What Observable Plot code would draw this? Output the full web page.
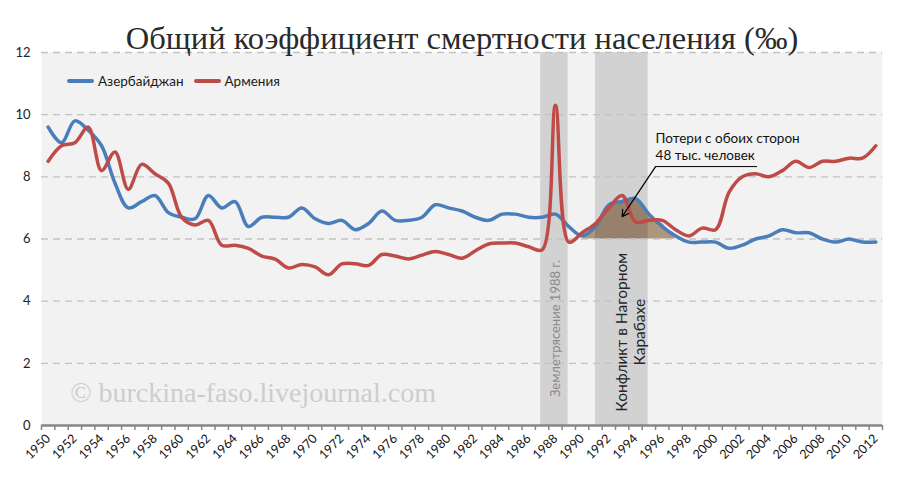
<!DOCTYPE html>
<html>
<head>
<meta charset="utf-8">
<script src="https://cdn.jsdelivr.net/npm/d3@7"></script>
<script src="https://cdn.jsdelivr.net/npm/@observablehq/plot@0.6"></script>
<style>
  html, body { margin: 0; padding: 0; background: #fff; }
  #wrap { position: relative; width: 900px; height: 480px; }
  #legend { position: absolute; left: 67px; top: 73px; display: flex; align-items: center;
            font-family: Lato, "Liberation Sans", sans-serif; font-size: 13.5px; color: #1a1a1a; }
  #legend .sw { display: inline-block; width: 27px; height: 3.5px; margin-right: 4px; border-radius: 2px; }
  #legend .it { display: flex; align-items: center; margin-right: 10px; }
</style>
</head>
<body>
<div id="wrap"></div>
<script>
// ---- data ----
const years = d3.range(1950, 2013);
const azerbaijan = [
  9.6, 9.1, 9.8, 9.5, 9.0, 7.8, 7.0, 7.2, 7.4, 6.85,
  6.7, 6.65, 7.4, 7.0, 7.2, 6.4, 6.7, 6.7, 6.7, 7.0,
  6.65, 6.5, 6.6, 6.3, 6.5, 6.9, 6.6, 6.6, 6.7, 7.1,
  7.0, 6.9, 6.7, 6.6, 6.8, 6.8, 6.7, 6.7, 6.8, 6.4,
  6.1, 6.4, 7.1, 7.2, 7.3, 6.8, 6.4, 6.1, 5.9, 5.9,
  5.9, 5.7, 5.8, 6.0, 6.1, 6.3, 6.2, 6.2, 6.0, 5.9,
  6.0, 5.9, 5.9
];
const armenia = [
  8.5, 9.0, 9.1, 9.6, 8.2, 8.8, 7.6, 8.4, 8.1, 7.8,
  6.7, 6.45, 6.6, 5.8, 5.8, 5.7, 5.45, 5.35, 5.07, 5.18,
  5.1, 4.85, 5.2, 5.2, 5.15, 5.5, 5.45, 5.36, 5.48, 5.6,
  5.5, 5.38, 5.62, 5.84, 5.87, 5.87, 5.75, 5.65, 10.3, 5.9,
  6.2, 6.5, 7.0, 7.4, 6.55, 6.6, 6.6, 6.3, 6.1, 6.35,
  6.3, 7.5, 8.0, 8.1, 8.0, 8.2, 8.5, 8.3, 8.5, 8.5,
  8.6, 8.6, 9.0
];
const seriesNames = ["Азербайджан", "Армения"];
const seriesColors = ["#4a7ebb", "#be4b48"];

// shaded loss area (conflict years)
const lossYears = [1990, 1991, 1992, 1993, 1994, 1995, 1996, 1997];
const lossTop   = [6.0, 6.4, 7.1, 7.25, 7.3, 6.75, 6.5, 6.0];
const lossBase  = 6;

// highlighted periods
const bandStart = [1986.9, 1991.0];
const bandEnd   = [1988.95, 1994.95];
const bandText  = ["Землетрясение 1988 г.", "Конфликт в Нагорном\nКарабахе"];
const bandTextX = [1988.05, 1993.6];
const bandTextY = [3.12, 3.0];

// axis ticks
const yTicks = [0, 2, 4, 6, 8, 10, 12];
const gridValues = [2, 4, 6, 8, 10, 12];
const xLabelYears = d3.range(1950, 2013, 2);
const xTickEdges = d3.range(1949.5, 2013, 1);

// texts
const titleText = "Общий коэффициент смертности населения (‰)";
const watermarkText = ["© burckina-faso.livejournal.com"];
const watermarkX = [1951.65];
const watermarkY = [1.03];
const noteText = ["Потери с обоих сторон\n48 тыс. человек"];
const noteX = [1995.5];
const noteY = [8.98];
const leader = [{x1: 1995.5, y1: 8.33, x2: 2003.1, y2: 8.33}];
const arrowSeg = [{x1: 1995.5, y1: 8.33, x2: 1993.0, y2: 6.72}];

// ---- build tables ----
const rows = [];
years.forEach((yr, i) => {
  rows.push({year: yr, value: azerbaijan[i], country: seriesNames[0]});
  rows.push({year: yr, value: armenia[i], country: seriesNames[1]});
});
const lossRows = lossYears.map((yr, i) => ({year: yr, top: lossTop[i], base: lossBase}));
const bands = bandStart.map((s, i) => ({x1: s, x2: bandEnd[i]}));
const bandLabels = bandText.map((t, i) => ({t, x: bandTextX[i], y: bandTextY[i]}));

const chart = Plot.plot({
  width: 900,
  height: 480,
  marginTop: 52,
  marginBottom: 55,
  marginLeft: 41,
  marginRight: 18,
  style: {fontFamily: "Lato, 'Liberation Sans', sans-serif", background: "white", color: "#1a1a1a"},
  x: {domain: [1949.5, 2012.5]},
  y: {domain: [0, 12]},
  color: {domain: seriesNames, range: seriesColors},
  marks: [
    Plot.frame({fill: "#f2f2f2", stroke: "none"}),
    Plot.areaY(lossRows, {x: "year", y1: "base", y2: "top", fill: "#ae957c", curve: "catmull-rom"}),
    Plot.rect(bands, {x1: "x1", x2: "x2", y1: 0, y2: 12, fill: "black", fillOpacity: 0.13}),
    Plot.ruleY(gridValues, {stroke: "#c2c2c2", strokeWidth: 1.3, strokeDasharray: "7,5"}),
    Plot.text([bandLabels[0]], {x: "x", y: "y", text: "t", rotate: -90, fontSize: 13, fill: "#8a8a8a"}),
    Plot.text([bandLabels[1]], {x: "x", y: "y", text: "t", rotate: -90, fontSize: 15.5, fill: "#262626", lineHeight: 1.15}),
    Plot.text(watermarkText, {x: watermarkX, y: watermarkY, text: d => d, textAnchor: "start",
      fontFamily: "'Liberation Serif', serif", fontSize: 28, fill: "#cdcdcd"}),
    Plot.lineY(rows, {x: "year", y: "value", stroke: "country", z: "country", strokeWidth: 3.5, curve: "catmull-rom"}),
    Plot.link(leader, {x1: "x1", y1: "y1", x2: "x2", y2: "y2", stroke: "black", strokeWidth: 1}),
    Plot.arrow(arrowSeg, {x1: "x1", y1: "y1", x2: "x2", y2: "y2", stroke: "black", strokeWidth: 1.2, headLength: 9, bend: 0}),
    Plot.text(noteText, {x: noteX, y: noteY, text: d => d, textAnchor: "start", fontSize: 13.5, fill: "#111", lineHeight: 1.25}),
    Plot.ruleY([0], {stroke: "#868686", strokeWidth: 2.5}),
    Plot.axisX({ticks: xTickEdges, tickFormat: () => "", tickSize: 5, stroke: "#868686", strokeWidth: 1.5, label: null}),
    Plot.axisX({ticks: xLabelYears, tickFormat: d => String(d), tickSize: 0, tickRotate: -45, tickPadding: 11, fontSize: 12.5, label: null, fill: "#111"}),
    Plot.axisY({ticks: yTicks, tickSize: 0, tickPadding: 11, fontSize: 13, label: null, fill: "#222"}),
    Plot.text([titleText], {frameAnchor: "top", dy: -27, text: d => d, fontFamily: "'Liberation Serif', serif", fontSize: 32.5, fill: "#2a2a2a"})
  ]
});

const wrap = document.getElementById("wrap");
wrap.appendChild(chart);
const legend = document.createElement("div");
legend.id = "legend";
seriesNames.forEach((n, i) => {
  const it = document.createElement("span");
  it.className = "it";
  const sw = document.createElement("span");
  sw.className = "sw";
  sw.style.background = seriesColors[i];
  it.appendChild(sw);
  it.appendChild(document.createTextNode(n));
  legend.appendChild(it);
});
wrap.appendChild(legend);
</script>
</body>
</html>
